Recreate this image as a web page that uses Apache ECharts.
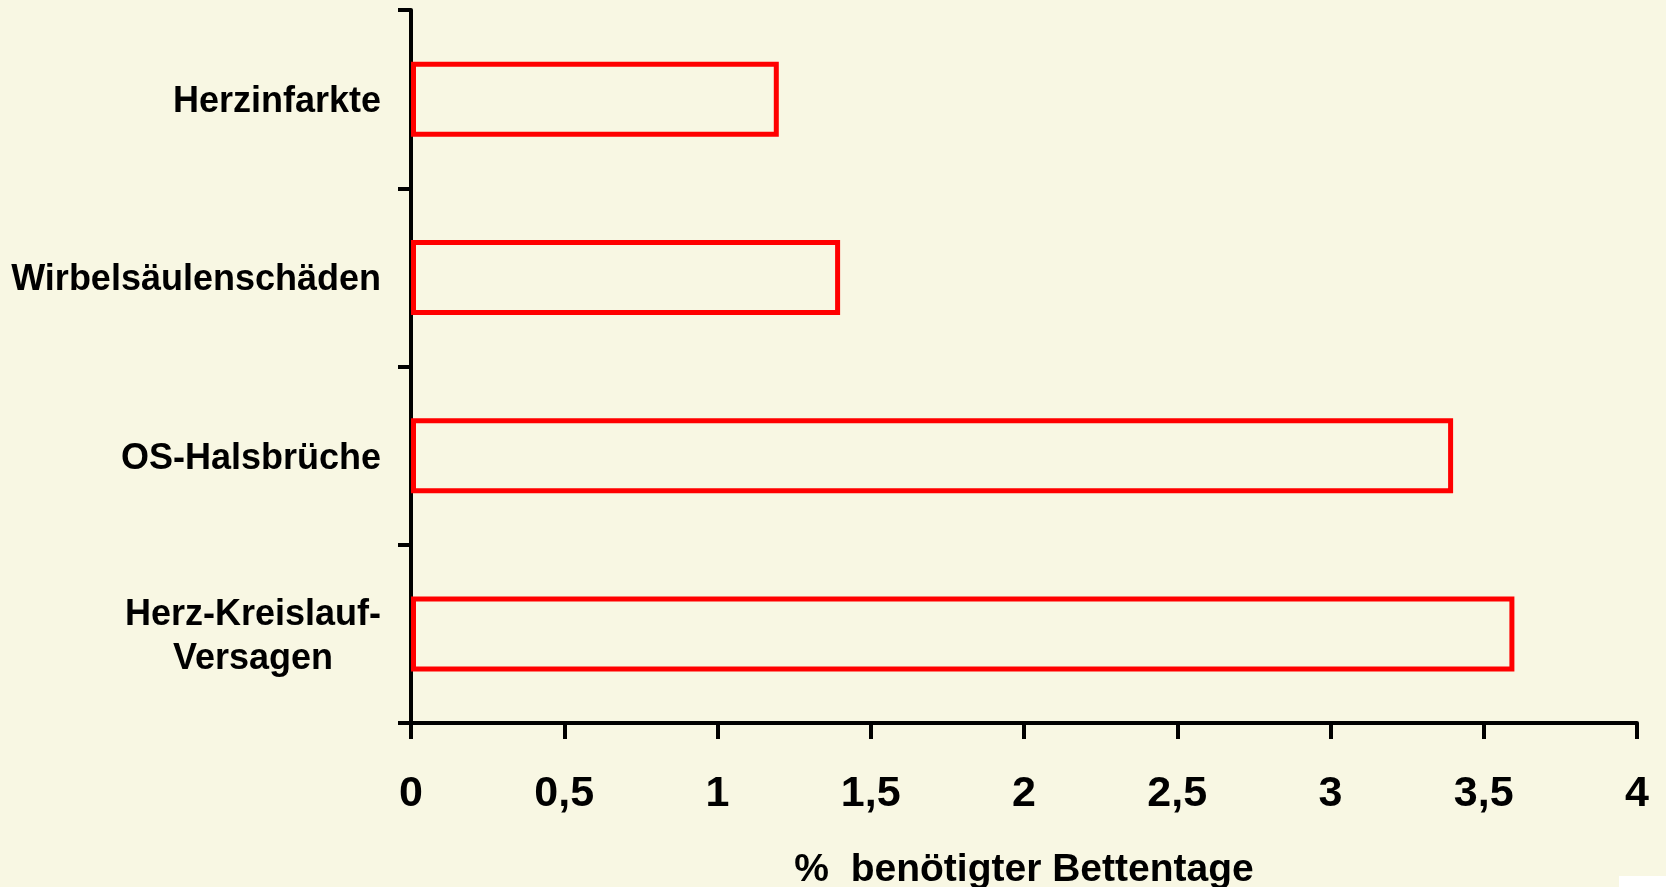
<!DOCTYPE html>
<html>
<head>
<meta charset="utf-8">
<script src="https://cdn.jsdelivr.net/npm/echarts@6/dist/echarts.min.js"></script>
<style>
  html, body { margin: 0; padding: 0; background: #F8F7E3; }
  #chart { width: 1666px; height: 887px; }
</style>
</head>
<body>
<div id="chart"></div>
<script>
// Categories, top to bottom
const categories = ['Herzinfarkte', 'Wirbelsäulenschäden', 'OS-Halsbrüche', 'Herz-Kreislauf-\nVersagen'];
// Share of required bed days (%)
const values = [1.2, 1.4, 3.4, 3.6];
// Value axis ticks
const xTicks = [0, 0.5, 1, 1.5, 2, 2.5, 3, 3.5, 4];
const xAxisTitle = '%  benötigter Bettentage';

const font = "'Liberation Sans', Arial, sans-serif";

const chart = echarts.init(document.getElementById('chart'), null, { renderer: 'canvas' });

chart.setOption({
  backgroundColor: '#F8F7E3',
  animation: false,
  grid: { left: 411, right: 29, top: 10, bottom: 164, containLabel: false, outerBoundsMode: 'none' },
  xAxis: {
    type: 'value',
    min: xTicks[0],
    max: xTicks[xTicks.length - 1],
    interval: 0.5,
    axisLine: { show: true, lineStyle: { color: '#000', width: 4 } },
    axisTick: { show: true, length: 16, lineStyle: { color: '#000', width: 4 } },
    splitLine: { show: false },
    axisLabel: {
      margin: 50,
      color: '#000',
      fontFamily: font,
      fontWeight: 'bold',
      fontSize: 43,
      formatter: v => String(v).replace('.', ',')
    },
    name: xAxisTitle,
    nameLocation: 'middle',
    nameGap: 128,
    nameTextStyle: { color: '#000', fontFamily: font, fontWeight: 'bold', fontSize: 39 }
  },
  yAxis: {
    type: 'category',
    data: categories,
    inverse: true,
    axisLine: { show: true, lineStyle: { color: '#000', width: 4 } },
    axisTick: { show: true, length: 13, lineStyle: { color: '#000', width: 4 } },
    splitLine: { show: false },
    axisLabel: {
      margin: 30,
      padding: [6, 0, 0, 0],
      color: '#000',
      fontFamily: font,
      fontWeight: 'bold',
      fontSize: 36,
      lineHeight: 44,
      formatter: v => v.split('\n').map(s => '{c|' + s + '}').join('\n'),
      rich: {
        c: { align: 'center', color: '#000', fontFamily: font, fontWeight: 'bold', fontSize: 36, lineHeight: 44 }
      }
    }
  },
  series: [{
    type: 'bar',
    data: values,
    barWidth: 75,
    itemStyle: { color: 'rgba(0,0,0,0)', borderColor: '#FF0000', borderWidth: 5 },
    silent: true
  }],
  graphic: [{
    type: 'rect',
    right: 0,
    bottom: 0,
    shape: { width: 47, height: 11 },
    style: { fill: '#FFFFFF' },
    silent: true
  }]
});
</script>
</body>
</html>
